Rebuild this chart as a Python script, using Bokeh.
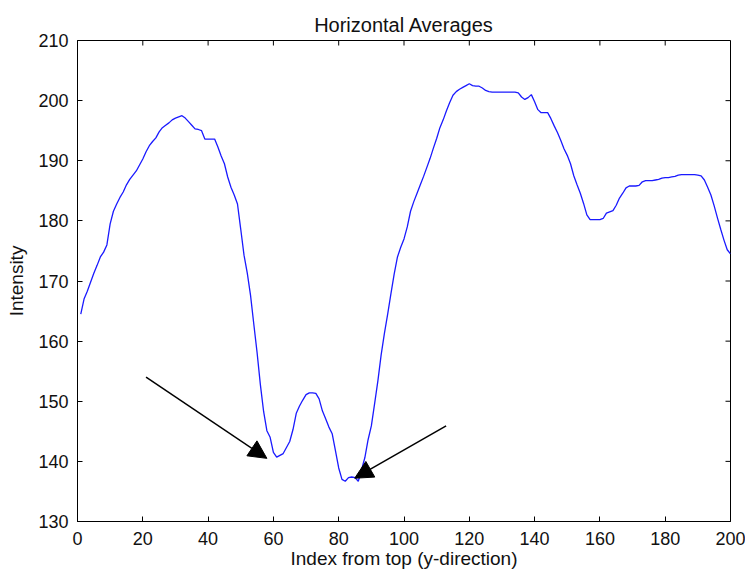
import math
from bokeh.plotting import figure
from bokeh.models import Range1d, FixedTicker, Arrow, NormalHead
from bokeh.embed import file_html
from bokeh.resources import INLINE

# ---- data ----
index = list(range(1, 201))
intensity = [
    164.5, 167.0, 168.3, 169.8, 171.3, 172.6, 174.0, 174.8, 176.0, 179.5,
    181.6, 182.8, 183.9, 184.8, 186.0, 186.9, 187.6, 188.3, 189.3, 190.3,
    191.5, 192.5, 193.2, 193.8, 194.8, 195.5, 195.9, 196.3, 196.8, 197.1,
    197.3, 197.5, 197.1, 196.5, 195.9, 195.3, 195.2, 195.0, 193.6, 193.6,
    193.6, 193.6, 192.3, 190.8, 189.5, 187.3, 185.6, 184.3, 182.8, 178.6,
    174.3, 171.3, 167.6, 162.8, 158.1, 152.8, 148.3, 145.1, 144.0, 141.5,
    140.7, 141.0, 141.3, 142.3, 143.3, 145.3, 148.0, 149.2, 150.2, 151.1,
    151.4, 151.4, 151.3, 150.4, 148.4, 147.1, 145.7, 144.6, 141.8, 138.9,
    137.0, 136.7, 137.3, 137.4, 137.3, 136.7, 138.6, 140.6, 143.6, 145.9,
    149.6, 153.4, 157.7, 161.3, 164.5, 167.9, 171.2, 174.0, 175.6, 177.0,
    179.0, 181.6, 183.2, 184.6, 186.0, 187.4, 188.9, 190.4, 192.1, 193.7,
    195.5, 196.8, 198.3, 199.7, 200.9, 201.5, 201.9, 202.2, 202.5, 202.8,
    202.5, 202.4, 202.4, 202.1, 201.7, 201.5, 201.4, 201.4, 201.4, 201.4,
    201.4, 201.4, 201.4, 201.4, 201.3, 200.6, 200.2, 200.5, 201.0, 199.8,
    198.5, 198.0, 198.0, 198.0, 197.0, 195.8, 194.7, 193.4, 192.0, 190.9,
    189.5, 187.5, 186.0, 184.6, 182.9, 181.0, 180.2, 180.2, 180.2, 180.2,
    180.4, 181.3, 181.5, 181.7, 182.6, 183.8, 184.6, 185.5, 185.8, 185.8,
    185.8, 185.9, 186.5, 186.7, 186.7, 186.7, 186.8, 186.9, 187.1, 187.2,
    187.2, 187.3, 187.4, 187.6, 187.7, 187.7, 187.7, 187.7, 187.7, 187.6,
    187.5, 186.8, 185.6, 184.3, 182.5, 180.5, 178.6, 176.8, 175.2, 174.5,
]
x_ticks = [0, 20, 40, 60, 80, 100, 120, 140, 160, 180, 200]
y_ticks = [130, 140, 150, 160, 170, 180, 190, 200, 210]
x_min, x_max = 0, 200
y_min, y_max = 130, 210

# annotation arrows (data coordinates): start -> tip
arrow_x_start = [21.0, 112.9]
arrow_y_start = [154.0, 145.9]
arrow_x_end = [58.0, 84.9]
arrow_y_end = [140.5, 137.2]

FONT = "Liberation Sans"
TXT = "#111111"

p = figure(width=745, height=574, output_backend="svg", toolbar_location=None,
           x_range=Range1d(x_min, x_max), y_range=Range1d(y_min, y_max),
           title="Horizontal Averages",
           min_border_left=77, min_border_right=15,
           min_border_top=40, min_border_bottom=53)

p.line(index, intensity, line_color="#1a1aff", line_width=1.3)

for xs, ys, xe, ye in zip(arrow_x_start, arrow_y_start, arrow_x_end, arrow_y_end):
    p.add_layout(Arrow(end=NormalHead(size=18, fill_color="black", line_color="black"),
                       x_start=xs, y_start=ys, x_end=xe, y_end=ye,
                       line_color="black", line_width=1.5))

# inward ticks on the top and right edges of the box
p.ray(x=x_ticks, y=[y_max] * len(x_ticks), length=5, length_units="screen",
      angle=-math.pi / 2, line_color="black", line_width=1)
p.ray(x=[x_max] * len(y_ticks), y=y_ticks, length=5, length_units="screen",
      angle=math.pi, line_color="black", line_width=1)

p.grid.visible = False
p.outline_line_color = "black"
p.outline_line_width = 1
p.background_fill_color = "white"
p.border_fill_color = "white"

p.title.align = "center"
p.title.text_font = FONT
p.title.text_font_size = "20px"
p.title.text_font_style = "normal"
p.title.text_color = TXT
p.title.standoff = 9

xa = p.xaxis[0]
ya = p.yaxis[0]
xa.ticker = FixedTicker(ticks=x_ticks)
ya.ticker = FixedTicker(ticks=y_ticks)
xa.axis_label = "Index from top (y-direction)"
ya.axis_label = "Intensity"
for ax in (xa, ya):
    ax.major_tick_in = 5
    ax.major_tick_out = 0
    ax.minor_tick_line_color = None
    ax.axis_line_color = "black"
    ax.major_tick_line_color = "black"
    ax.major_label_text_font = FONT
    ax.major_label_text_font_size = "18px"
    ax.major_label_text_color = TXT
    ax.axis_label_text_font = FONT
    ax.axis_label_text_font_size = "19px"
    ax.axis_label_text_font_style = "normal"
    ax.axis_label_text_color = TXT
xa.major_label_standoff = 10
xa.axis_label_standoff = 0
ya.major_label_standoff = 9
ya.axis_label_standoff = 8

open("out.html", "w").write(file_html(p, INLINE))
